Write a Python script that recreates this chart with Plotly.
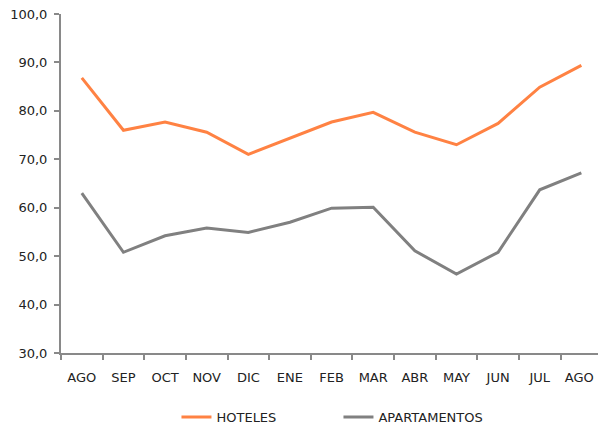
import plotly.graph_objects as go

months = ["AGO", "SEP", "OCT", "NOV", "DIC", "ENE", "FEB", "MAR", "ABR", "MAY", "JUN", "JUL", "AGO "]
hoteles = [86.8, 76.0, 77.7, 75.6, 71.0, 74.4, 77.7, 79.7, 75.6, 73.0, 77.4, 84.9, 89.4]
apartamentos = [63.0, 50.8, 54.2, 55.8, 54.9, 57.0, 59.9, 60.1, 51.1, 46.3, 50.8, 63.7, 67.2]
y_ticks = [30, 40, 50, 60, 70, 80, 90, 100]

fig = go.Figure()
fig.add_trace(go.Scatter(x=months, y=hoteles, mode="lines", name="HOTELES",
                         line=dict(color="#FF8243", width=3)))
fig.add_trace(go.Scatter(x=months, y=apartamentos, mode="lines", name="APARTAMENTOS",
                         line=dict(color="#808080", width=3)))

axis_color = "#898989"
fig.update_layout(
    width=598, height=429,
    margin=dict(l=61, r=0, t=14, b=76, autoexpand=False),
    paper_bgcolor="white", plot_bgcolor="white",
    separators=",.",
    font=dict(family="DejaVu Sans", size=13, color="#222222"),
    showlegend=True,
    legend=dict(orientation="h", xref="container", yref="container",
                x=0.566, xanchor="center", y=0.028, yanchor="middle",
                entrywidth=117, entrywidthmode="pixels", font=dict(size=13)),
    xaxis=dict(type="category", range=[-0.5, 12.4], tickson="boundaries",
               showline=True, linecolor=axis_color, linewidth=2,
               ticks="outside", ticklen=5, tickwidth=2, tickcolor=axis_color,
               showgrid=False, zeroline=False, ticklabelstandoff=11,
               automargin=False),
    yaxis=dict(range=[30, 100], tickvals=y_ticks, tickformat=".1f",
               showline=True, linecolor=axis_color, linewidth=2,
               ticks="outside", ticklen=5, tickwidth=2, tickcolor=axis_color,
               showgrid=False, zeroline=False, ticklabelstandoff=4,
               automargin=False),
)
fig.write_html("out.html", config={"displayModeBar": False},
               post_script="document.body.style.margin='0';document.body.style.overflow='hidden';")
